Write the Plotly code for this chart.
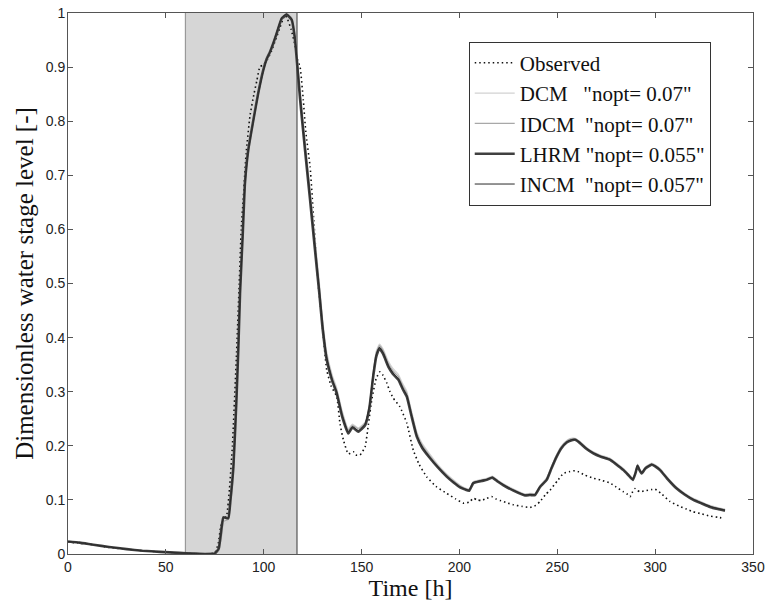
import plotly.graph_objects as go

# ---------------- data ----------------
shade_start = 60
shade_end = 117

t_obs = [0, 6, 13, 21, 30, 38, 47, 57, 64, 70, 75, 76.8, 78, 79.5, 81, 82.5, 84, 86, 87.5, 88.5,
         89.5, 91, 93, 95, 96.5, 98, 100, 102, 104, 106, 108, 110, 110.9, 112, 114, 116, 117.5,
         118.6, 120.2, 121.5, 123.7, 125.5, 127.8, 129.5, 132.2, 134.5, 137.3, 139, 140.7, 143.2,
         145.8, 147, 149.2, 151.8, 153.5, 155.2, 157.5, 159.4, 161, 162.9, 164.5, 166.2, 169.6,
         173.1, 176.4, 179.5, 183.2, 188, 193.5, 198, 202, 205, 207.1, 209, 211.4, 214, 216.5,
         218.5, 220.7, 224, 227.6, 232, 236.1, 239, 241.2, 244, 246.3, 250, 253.1, 256, 258.2,
         260.8, 264, 268.4, 272, 277, 280, 283.8, 286, 287.2, 288.5, 289.7, 291, 292.3, 295, 298,
         299.9, 303, 307.6, 312, 316, 319.5, 324, 328, 332, 334.9]
y_obs = [0.022, 0.020, 0.017, 0.012, 0.009, 0.006, 0.004, 0.002, 0.001, 0.0, 0.002, 0.02, 0.05,
         0.065, 0.07, 0.12, 0.2, 0.36, 0.5, 0.6, 0.654, 0.74, 0.81, 0.85, 0.875, 0.90, 0.905,
         0.915, 0.93, 0.95, 0.97, 0.99, 0.996, 0.99, 0.97, 0.94, 0.91, 0.90, 0.84, 0.78, 0.716,
         0.62, 0.50, 0.44, 0.34, 0.31, 0.291, 0.24, 0.211, 0.185, 0.189, 0.183, 0.183, 0.198,
         0.24, 0.285, 0.325, 0.337, 0.33, 0.316, 0.30, 0.288, 0.272, 0.242, 0.192, 0.165, 0.143,
         0.125, 0.112, 0.102, 0.094, 0.096, 0.103, 0.100, 0.099, 0.103, 0.106, 0.102, 0.099,
         0.095, 0.091, 0.088, 0.086, 0.090, 0.097, 0.110, 0.118, 0.135, 0.149, 0.152, 0.154,
         0.152, 0.146, 0.140, 0.137, 0.131, 0.124, 0.115, 0.110, 0.106, 0.115, 0.121, 0.117,
         0.115, 0.117, 0.119, 0.120, 0.112, 0.097, 0.089, 0.083, 0.078, 0.074, 0.070, 0.068, 0.066]

t_mod = [0, 6, 13, 21, 30, 38, 47, 57, 64, 70, 75, 77, 78.5, 79.4, 81.9, 83, 84.5, 86, 87, 87.9,
         89.3, 90.4, 92.1, 94.7, 97.2, 99.8, 101.5, 103.2, 105, 106.6, 109.2, 111.7, 114.3, 116,
         117.2, 118.6, 121.1, 123.7, 126.2, 128.4, 130, 132.2, 135, 137.3, 140, 143.2, 145.3,
         148.4, 151.8, 154, 156, 157.5, 159.1, 161, 163.7, 166, 168.8, 171, 173.1, 175.5, 178.2,
         181, 185, 189, 193.5, 197, 200.3, 203, 205, 207.1, 211.4, 214, 216.8, 219.5, 222.5,
         227.6, 233.5, 236, 238.6, 241.2, 244.6, 247, 249.7, 252, 254.8, 257, 259.1, 261.6, 265,
         268.4, 272, 277, 280, 283.8, 286.5, 288.6, 290, 291, 292, 293.1, 295, 298.2, 300, 302.5,
         306, 311, 315, 319.5, 324, 328, 332, 335.7]

y_lhrm = [0.023, 0.021, 0.017, 0.013, 0.009, 0.006, 0.004, 0.002, 0.001, 0.0, 0.001, 0.01, 0.05,
          0.068, 0.066, 0.10, 0.161, 0.28, 0.377, 0.482, 0.593, 0.685, 0.747, 0.802, 0.852, 0.895,
          0.915, 0.928, 0.945, 0.962, 0.99, 0.997, 0.987, 0.95, 0.90, 0.84, 0.747, 0.654, 0.562,
          0.482, 0.42, 0.359, 0.32, 0.297, 0.255, 0.223, 0.234, 0.226, 0.238, 0.27, 0.33, 0.365,
          0.38, 0.37, 0.346, 0.333, 0.322, 0.305, 0.291, 0.255, 0.217, 0.196, 0.177, 0.16, 0.143,
          0.132, 0.123, 0.119, 0.117, 0.131, 0.135, 0.137, 0.141, 0.134, 0.127, 0.117, 0.108,
          0.109, 0.109, 0.124, 0.137, 0.158, 0.18, 0.195, 0.206, 0.21, 0.211, 0.205, 0.194, 0.186,
          0.18, 0.174, 0.166, 0.155, 0.145, 0.137, 0.15, 0.163, 0.155, 0.149, 0.158, 0.165, 0.162,
          0.155, 0.14, 0.121, 0.11, 0.10, 0.093, 0.087, 0.083, 0.080]

y_incm = [0.023, 0.021, 0.017, 0.013, 0.009, 0.006, 0.004, 0.002, 0.001, 0.0, 0.001, 0.01, 0.048,
          0.067, 0.066, 0.098, 0.158, 0.275, 0.372, 0.478, 0.590, 0.682, 0.745, 0.800, 0.850, 0.893,
          0.914, 0.928, 0.946, 0.964, 0.991, 0.998, 0.989, 0.953, 0.905, 0.845, 0.752, 0.660, 0.568,
          0.488, 0.425, 0.362, 0.322, 0.299, 0.257, 0.225, 0.235, 0.228, 0.240, 0.272, 0.333, 0.368,
          0.382, 0.372, 0.348, 0.335, 0.324, 0.307, 0.293, 0.257, 0.219, 0.198, 0.178, 0.161, 0.144,
          0.133, 0.124, 0.120, 0.118, 0.132, 0.136, 0.138, 0.142, 0.135, 0.128, 0.118, 0.109,
          0.110, 0.110, 0.125, 0.138, 0.159, 0.181, 0.196, 0.207, 0.211, 0.212, 0.206, 0.195, 0.187,
          0.181, 0.175, 0.167, 0.156, 0.146, 0.138, 0.151, 0.164, 0.156, 0.150, 0.159, 0.166, 0.163,
          0.156, 0.141, 0.122, 0.111, 0.101, 0.094, 0.088, 0.084, 0.081]

y_idcm = [0.023, 0.021, 0.017, 0.013, 0.009, 0.006, 0.004, 0.002, 0.001, 0.0, 0.001, 0.006, 0.035,
          0.060, 0.064, 0.090, 0.148, 0.262, 0.360, 0.468, 0.582, 0.676, 0.740, 0.797, 0.848, 0.892,
          0.913, 0.928, 0.947, 0.966, 0.992, 0.999, 0.991, 0.958, 0.912, 0.853, 0.760, 0.668, 0.576,
          0.496, 0.432, 0.368, 0.327, 0.303, 0.262, 0.229, 0.238, 0.231, 0.242, 0.274, 0.336, 0.372,
          0.385, 0.376, 0.352, 0.339, 0.328, 0.311, 0.297, 0.261, 0.223, 0.201, 0.181, 0.163, 0.146,
          0.135, 0.126, 0.121, 0.119, 0.133, 0.137, 0.139, 0.143, 0.136, 0.129, 0.119, 0.110,
          0.111, 0.111, 0.126, 0.140, 0.161, 0.183, 0.198, 0.209, 0.213, 0.213, 0.207, 0.196, 0.188,
          0.182, 0.176, 0.168, 0.157, 0.147, 0.139, 0.152, 0.165, 0.157, 0.151, 0.160, 0.167, 0.164,
          0.157, 0.142, 0.123, 0.112, 0.102, 0.095, 0.089, 0.085, 0.082]

y_dcm = [0.023, 0.021, 0.017, 0.013, 0.009, 0.006, 0.004, 0.002, 0.001, 0.0, 0.0, 0.004, 0.028,
         0.052, 0.062, 0.085, 0.140, 0.252, 0.350, 0.460, 0.576, 0.671, 0.737, 0.795, 0.846, 0.891,
         0.912, 0.928, 0.948, 0.968, 0.993, 1.000, 0.993, 0.962, 0.918, 0.860, 0.768, 0.676, 0.584,
         0.503, 0.438, 0.374, 0.331, 0.307, 0.266, 0.232, 0.240, 0.233, 0.244, 0.276, 0.338, 0.375,
         0.388, 0.379, 0.356, 0.343, 0.332, 0.315, 0.301, 0.265, 0.226, 0.204, 0.184, 0.165, 0.148,
         0.137, 0.127, 0.122, 0.120, 0.134, 0.138, 0.140, 0.144, 0.137, 0.130, 0.120, 0.111,
         0.112, 0.112, 0.127, 0.141, 0.162, 0.184, 0.199, 0.210, 0.214, 0.214, 0.208, 0.197, 0.189,
         0.183, 0.177, 0.169, 0.158, 0.148, 0.140, 0.153, 0.166, 0.158, 0.152, 0.161, 0.168, 0.165,
         0.158, 0.143, 0.124, 0.113, 0.103, 0.096, 0.090, 0.086, 0.083]

x_ticks = [0, 50, 100, 150, 200, 250, 300, 350]
y_ticks = [0, 0.1, 0.2, 0.3, 0.4, 0.5, 0.6, 0.7, 0.8, 0.9, 1]
y_ticklabels = ["0", "0.1", "0.2", "0.3", "0.4", "0.5", "0.6", "0.7", "0.8", "0.9", "1"]

NB = "\u00a0"
names = ["Observed",
         "DCM" + NB * 3 + "\"nopt= 0.07\"",
         "IDCM" + NB * 2 + "\"nopt= 0.07\"",
         "LHRM \"nopt= 0.055\"",
         "INCM" + NB * 2 + "\"nopt= 0.057\""]

# ---------------- figure ----------------
fig = go.Figure()

SM = 0.4
fig.add_trace(go.Scatter(x=t_obs, y=y_obs, mode="lines", name=names[0],
                         line=dict(color="#111111", width=1.6, dash="1.5px,3px",
                                   shape="spline", smoothing=SM)))
fig.add_trace(go.Scatter(x=t_mod, y=y_dcm, mode="lines", name=names[1],
                         line=dict(color="#d2d2d2", width=1.2, shape="spline", smoothing=SM)))
fig.add_trace(go.Scatter(x=t_mod, y=y_idcm, mode="lines", name=names[2],
                         line=dict(color="#a8a8a8", width=1.2, shape="spline", smoothing=SM)))
fig.add_trace(go.Scatter(x=t_mod, y=y_lhrm, mode="lines", name=names[3],
                         line=dict(color="#404040", width=2.6, shape="spline", smoothing=SM)))
fig.add_trace(go.Scatter(x=t_mod, y=y_incm, mode="lines", name=names[4],
                         line=dict(color="#2a2a2a", width=1.0, shape="spline", smoothing=SM)))

fig.add_shape(type="rect", xref="x", yref="y", x0=shade_start, x1=shade_end, y0=0, y1=1,
              fillcolor="#d6d6d6", line=dict(width=0), layer="below")
fig.add_shape(type="line", xref="x", yref="y", x0=shade_start, x1=shade_start, y0=0, y1=1,
              line=dict(color="#999999", width=1.2), layer="below")
fig.add_shape(type="line", xref="x", yref="y", x0=shade_end, x1=shade_end, y0=0, y1=1,
              line=dict(color="#555555", width=1.2), layer="below")

axis_common = dict(showgrid=False, zeroline=False, showline=True, linecolor="#555555",
                   linewidth=1, mirror="ticks", ticks="inside", ticklen=5, tickcolor="#555555",
                   automargin=False,
                   tickfont=dict(family="Liberation Sans, Arial", size=14, color="#222222"))

fig.update_xaxes(range=[0, 350], tickvals=x_ticks, ticktext=[str(v) for v in x_ticks],
                 ticklabelstandoff=0,
                 title=dict(text="Time [h]", font=dict(family="Liberation Serif, Times New Roman",
                                                       size=24, color="#111111"), standoff=0),
                 **axis_common)
fig.update_yaxes(range=[0, 1], tickvals=y_ticks, ticktext=y_ticklabels,
                 ticklabelstandoff=-1,
                 title=dict(text="Dimensionless water stage level [-]",
                            font=dict(family="Liberation Serif, Times New Roman", size=25,
                                      color="#111111"), standoff=4),
                 **axis_common)

fig.update_layout(
    width=768, height=606,
    margin=dict(l=68, r=15, t=13, b=52),
    plot_bgcolor="white", paper_bgcolor="white",
    legend=dict(x=0.585, y=0.947, xanchor="left", yanchor="top",
                bgcolor="white", bordercolor="#333333", borderwidth=1,
                font=dict(family="Liberation Serif, Times New Roman", size=21, color="#111111"),
                tracegroupgap=0, itemwidth=40),
    showlegend=True,
)

fig.write_html("out.html")
